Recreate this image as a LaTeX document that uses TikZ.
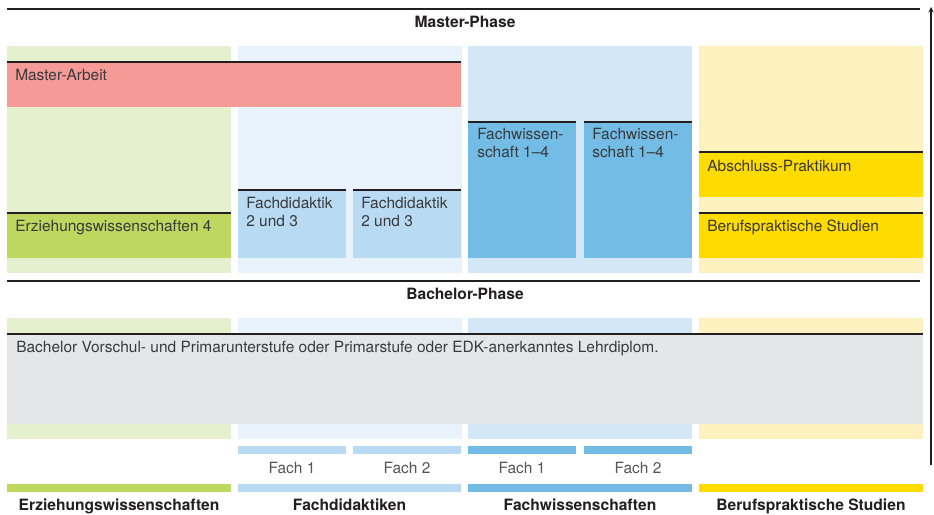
\documentclass[tikz,border=0pt]{standalone}
\usepackage{fontspec}
\setmainfont{TeX Gyre Heros}
\usepackage{tikz}
\usetikzlibrary{arrows,positioning}
\usepackage{xcolor}
\definecolor{ewlight}{HTML}{E5F0CF}
\definecolor{ewdark}{HTML}{BDD75F}
\definecolor{fdlight}{HTML}{E8F3FB}
\definecolor{fdmid}{HTML}{B8DBF3}
\definecolor{fwlight}{HTML}{D3E8F6}
\definecolor{fwdark}{HTML}{72BCE6}
\definecolor{bplight}{HTML}{FDF1C0}
\definecolor{bpdark}{HTML}{FFDC00}
\definecolor{mared}{HTML}{F59A97}
\definecolor{bagray}{HTML}{E5E6E8}
\definecolor{rulecol}{HTML}{231F20}
\definecolor{txtgray}{HTML}{3A3A3C}
\definecolor{fachgray}{HTML}{555557}
\tikzstyle{rule} = [line width=1pt,color=rulecol]
\tikzstyle{boxtext} = [anchor=base west,inner sep=0pt,text=txtgray,align=left,font=\fontsize{11.6}{12.8}\selectfont]
\tikzstyle{fachtext} = [anchor=base,inner sep=0pt,text=fachgray,font=\fontsize{11.6}{12.8}\selectfont]
\tikzstyle{headtext} = [anchor=base,inner sep=0pt,text=rulecol,font=\fontsize{11.7}{12.8}\selectfont\bfseries]

\begin{document}
\begin{tikzpicture}[x=0.75pt,y=-0.75pt]
\useasboundingbox (0,0) rectangle (934,514);
% Time axis
\coordinate (axisbot) at (931,465);
\coordinate (axistop) at (931,7);
\draw[thick,->,>=stealth,color=rulecol,line width=0.8pt] (axisbot) -- (axistop);

% Master phase
\draw[rule] (7,9) -- (920,9);
\node[headtext] (master) at (465,27) {Master-Phase};

% Column backgrounds (master)
\fill[ewlight] (7,46) rectangle (231,273);
\fill[fdlight] (238,46) rectangle (462,273);
\fill[fwlight] (468,46) rectangle (692,273);
\fill[bplight] (699,46) rectangle (923,273);

% Master-Arbeit
\fill[mared] (7,62) rectangle (461,107);
\draw[rule] (7,62) -- (461,62);
\node[boxtext] (arbeit) at (15,80) {Master-Arbeit};

% Erziehungswissenschaften
\fill[ewdark] (7,213) rectangle (231,258);
\draw[rule] (7,213) -- (231,213);
\node[boxtext] (ew4) at (15,231) {Erziehungswissenschaften 4};

% Fachdidaktik
\fill[fdmid] (238,190) rectangle (346,258);
\fill[fdmid] (353,190) rectangle (461,258);
\draw[rule] (238,190) -- (346,190);
\draw[rule] (353,190) -- (461,190);
\node[boxtext] (fdA) at (246,226) {Fachdidaktik\\2 und 3};
\node[boxtext] (fdB) at (361,226) {Fachdidaktik\\2 und 3};

% Fachwissenschaft
\fill[fwdark] (468,122) rectangle (576,258);
\fill[fwdark] (584,122) rectangle (692,258);
\draw[rule] (468,122) -- (576,122);
\draw[rule] (584,122) -- (692,122);
\node[boxtext] (fwA) at (477,157) {Fachwissen-\\schaft 1--4};
\node[boxtext] (fwB) at (592,157) {Fachwissen-\\schaft 1--4};

% Berufspraktische Studien
\fill[bpdark] (699,152) rectangle (923,197);
\draw[rule] (699,152) -- (923,152);
\node[boxtext] (praktikum) at (707,171) {Abschluss-Praktikum};
\fill[bpdark] (699,213) rectangle (923,258);
\draw[rule] (699,213) -- (923,213);
\node[boxtext] (bps) at (707,231) {Berufspraktische Studien};

% Bachelor phase
\draw[rule] (7,281) -- (920,281);
\node[headtext] (bachelor) at (465,299) {Bachelor-Phase};

% Column backgrounds (bachelor)
\fill[ewlight] (7,318) rectangle (231,439);
\fill[fdlight] (238,318) rectangle (462,439);
\fill[fwlight] (468,318) rectangle (692,439);
\fill[bplight] (699,318) rectangle (923,439);

\fill[bagray] (7,334) rectangle (923,424);
\draw[rule] (7,334) -- (923,334);
\node[boxtext] (diplom) at (16,352) {Bachelor Vorschul- und Primarunterstufe oder Primarstufe oder EDK-anerkanntes Lehrdiplom.};

% Fach bars
\fill[fdmid] (238,446) rectangle (346,454);
\fill[fdmid] (353,446) rectangle (461,454);
\fill[fwdark] (468,446) rectangle (576,454);
\fill[fwdark] (584,446) rectangle (692,454);
\node[fachtext] (fdF1) at (292,473) {Fach 1};
\node[fachtext] (fdF2) at (407,473) {Fach 2};
\node[fachtext] (fwF1) at (522,473) {Fach 1};
\node[fachtext] (fwF2) at (638,473) {Fach 2};

% Bottom bars and column titles
\fill[ewdark] (7,484) rectangle (231,492);
\fill[fdmid] (238,484) rectangle (461,492);
\fill[fwdark] (468,484) rectangle (692,492);
\fill[bpdark] (699,484) rectangle (923,492);
\node[headtext] (ewtitle) at (119,510) {Erziehungswissenschaften};
\node[headtext] (fdtitle) at (349.5,510) {Fachdidaktiken};
\node[headtext] (fwtitle) at (580,510) {Fachwissenschaften};
\node[headtext] (bptitle) at (811,510) {Berufspraktische Studien};
\end{tikzpicture}
\end{document}
